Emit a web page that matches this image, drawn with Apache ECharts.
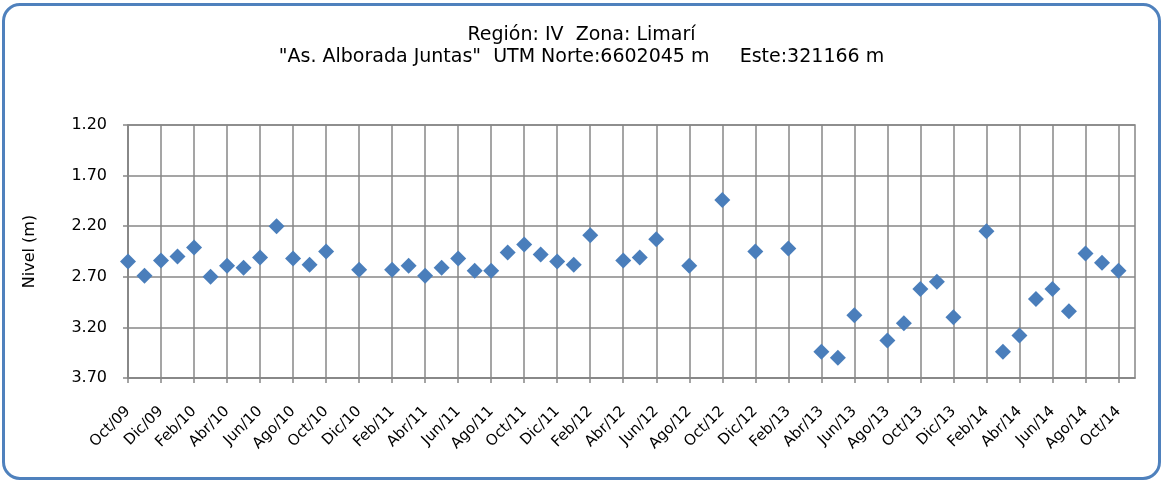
<!DOCTYPE html>
<html>
<head>
<meta charset="utf-8">
<script src="https://cdn.jsdelivr.net/npm/echarts@6/dist/echarts.min.js"></script>
<style>
  html, body { margin: 0; padding: 0; background: #ffffff; }
  #frame {
    position: absolute; left: 2px; top: 3px; width: 1153px; height: 471px;
    border: 3px solid #4f81bd; border-radius: 18px; background: #ffffff;
  }
  #chart { position: absolute; left: 0; top: 0; width: 1163px; height: 482px; }
</style>
</head>
<body>
<div id="frame"></div>
<div id="chart"></div>
<script>
// Monthly categories, Oct/09 .. Nov/14
const months = [
  'Oct/09','Nov/09','Dic/09','Ene/10','Feb/10','Mar/10','Abr/10','May/10','Jun/10','Jul/10','Ago/10','Sep/10',
  'Oct/10','Nov/10','Dic/10','Ene/11','Feb/11','Mar/11','Abr/11','May/11','Jun/11','Jul/11','Ago/11','Sep/11',
  'Oct/11','Nov/11','Dic/11','Ene/12','Feb/12','Mar/12','Abr/12','May/12','Jun/12','Jul/12','Ago/12','Sep/12',
  'Oct/12','Nov/12','Dic/12','Ene/13','Feb/13','Mar/13','Abr/13','May/13','Jun/13','Jul/13','Ago/13','Sep/13',
  'Oct/13','Nov/13','Dic/13','Ene/14','Feb/14','Mar/14','Abr/14','May/14','Jun/14','Jul/14','Ago/14','Sep/14',
  'Oct/14','Nov/14'
];

// Water level (m), null where no measurement was taken
const nivel = [
  2.55, 2.69, 2.54, 2.50, 2.41, 2.70, 2.59, 2.61, 2.51, 2.20, 2.52, 2.58,
  2.45, null, 2.63, null, 2.63, 2.59, 2.69, 2.61, 2.52, 2.64, 2.64, 2.46,
  2.38, 2.48, 2.55, 2.58, 2.29, null, 2.54, 2.51, 2.33, null, 2.59, null,
  1.94, null, 2.45, null, 2.42, null, 3.44, 3.50, 3.08, null, 3.33, 3.16,
  2.82, 2.75, 3.10, null, 2.25, 3.44, 3.28, 2.92, 2.82, 3.04, 2.47, 2.56,
  2.64, null
];

const yTicks = { min: 1.2, max: 3.7, step: 0.5 };

const titleLines = [
  'Región: IV  Zona: Limarí',
  '"As. Alborada Juntas"  UTM Norte:6602045 m     Este:321166 m'
];

const gridGray = '#878787';
const font = 'DejaVu Sans, Verdana, sans-serif';

const chart = echarts.init(document.getElementById('chart'), null, { renderer: 'canvas' });
chart.setOption({
  animation: false,
  title: {
    text: titleLines.join('\n'),
    left: 'center',
    top: 19,
    textStyle: { fontFamily: font, fontSize: 19, fontWeight: 'normal', color: '#000', lineHeight: 22 }
  },
  grid: {
    left: 128, right: 28, top: 125, bottom: 104,
    show: true, borderColor: gridGray, borderWidth: 1.5, backgroundColor: 'transparent'
  },
  xAxis: {
    type: 'category',
    data: months,
    boundaryGap: false,
    axisLine: { show: true, lineStyle: { color: gridGray, width: 1.5 } },
    axisTick: { show: true, interval: 1, length: 5, lineStyle: { color: gridGray, width: 1.5 } },
    splitLine: { show: true, interval: 1, lineStyle: { color: gridGray, width: 1.5 } },
    axisLabel: {
      interval: 1, rotate: 45, margin: 31,
      fontFamily: font, fontSize: 15, color: '#000'
    }
  },
  yAxis: {
    type: 'value',
    inverse: true,
    min: yTicks.min, max: yTicks.max, interval: yTicks.step,
    name: 'Nivel (m)',
    nameLocation: 'middle',
    nameGap: 90,
    nameRotate: 90,
    nameTextStyle: { fontFamily: font, fontSize: 16, color: '#000' },
    axisLine: { show: true, lineStyle: { color: gridGray, width: 1.5 } },
    axisTick: { show: true, length: 5, lineStyle: { color: gridGray, width: 1.5 } },
    splitLine: { show: true, lineStyle: { color: gridGray, width: 1.5 } },
    axisLabel: {
      margin: 21,
      fontFamily: font, fontSize: 16, color: '#000',
      formatter: v => v.toFixed(2)
    }
  },
  series: [{
    type: 'scatter',
    data: nivel,
    symbol: 'diamond',
    symbolSize: 16,
    itemStyle: { color: '#4a7ebb', opacity: 1 },
    z: 5
  }]
});
</script>
</body>
</html>
